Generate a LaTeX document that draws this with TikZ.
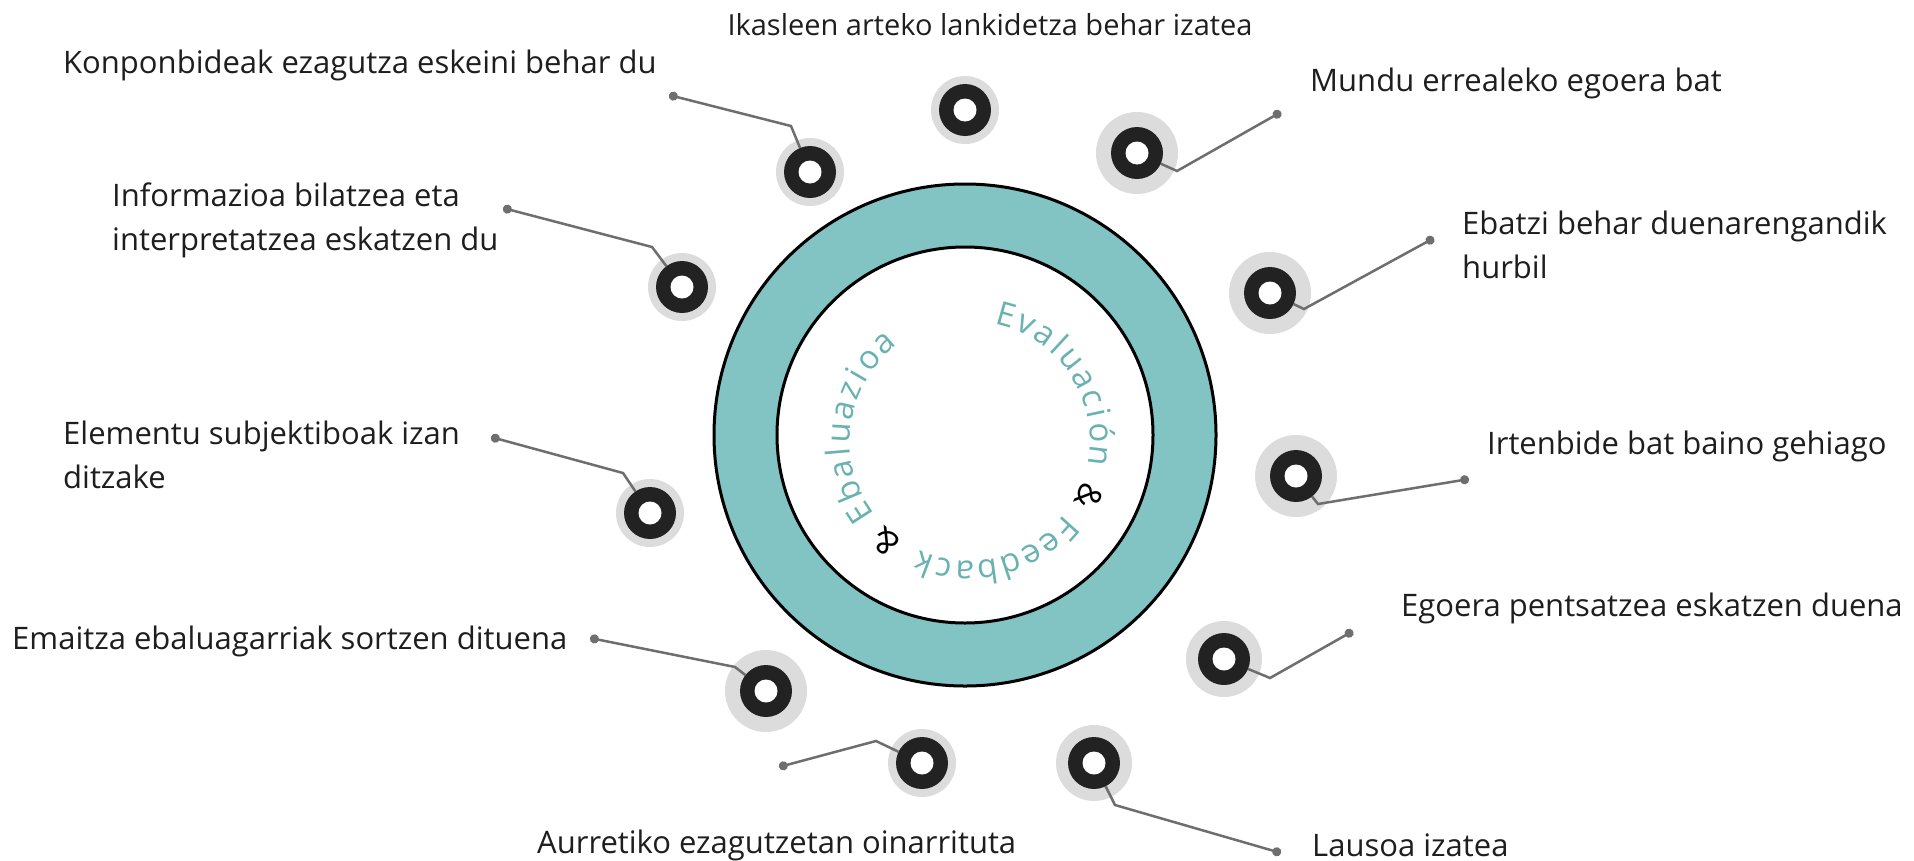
\documentclass[tikz,border=0pt]{standalone}
\usepackage{fontspec}
\setmainfont{Open Sans}
\usetikzlibrary{calc,arrows.meta}
\definecolor{ringteal}{HTML}{82C4C3}
\definecolor{ringtext}{HTML}{6AB2B2}
\definecolor{mk}{HTML}{222222}
\definecolor{halogray}{HTML}{DCDCDC}
\definecolor{conncol}{HTML}{6E6E6E}
\definecolor{labeltext}{HTML}{1E1E1E}
\begin{document}
\begin{tikzpicture}[x=1pt,y=-1pt,
  lbl/.style={anchor=west, inner sep=0pt, align=left, text=labeltext, font=\fontsize{31}{44}\selectfont},
  toplbl/.style={anchor=center, inner sep=0pt, text=labeltext, font=\fontsize{29}{34}\selectfont},
  halodisc/.style={circle, fill=halogray, minimum size=#1, inner sep=0pt, outer sep=0pt},
  bead/.style={circle, fill=mk, minimum size=52pt, inner sep=0pt, outer sep=0pt,
    path picture={\fill[white] (path picture bounding box.center) circle (11.5);}},
  conn/.style={draw=conncol, line width=2.5pt, {Circle[length=9pt]}-},
  ringletter/.style={anchor=base, inner sep=0pt, font=\fontsize{33}{38}\selectfont},
  ringline/.style={draw=black, line width=3pt}
]
\path[use as bounding box, fill=white] (0,0) rectangle (1914,860);

% ring
\coordinate (C) at (965,435);
\coordinate (T) at (970,441);
\path[ringline, fill=ringteal] (C) circle (251);
\path[ringline, fill=white] (C) circle (188);

% text around the inner circle
\foreach \ch/\ang/\col [count=\i] in {
  E/74/ringtext, v/64.6/ringtext, a/55.1/ringtext, l/47.2/ringtext, u/38.9/ringtext,
  a/28.8/ringtext, c/19.4/ringtext, i/12.0/ringtext, ó/3.8/ringtext, n/-6.7/ringtext,
  \&/-25/black,
  F/-42/ringtext, e/-51.5/ringtext, e/-61.4/ringtext, d/-71.6/ringtext, b/-82.1/ringtext,
  a/-92.3/ringtext, c/-101.6/ringtext, k/-110.8/ringtext,
  \&/-130/black,
  E/-147/ringtext, b/-157.2/ringtext, a/-167.3/ringtext, l/-175.2/ringtext, u/-183.5/ringtext,
  a/-193.7/ringtext, z/-202.9/ringtext, i/-210.3/ringtext, o/-218.6/ringtext, a/-228.7/ringtext}
{
  \node[ringletter, text=\col, rotate=\ang-90] (r\i) at ($(T)+({cos(\ang)*120},{-sin(\ang)*120})$) {\ch};
}

% halos
\node[halodisc=68pt] (h1) at (965,110) {};
\node[halodisc=82pt] (h2) at (1137,153) {};
\node[halodisc=82pt] (h3) at (1270,293) {};
\node[halodisc=82pt] (h4) at (1296,476) {};
\node[halodisc=76pt] (h5) at (1224,659) {};
\node[halodisc=76pt] (h6) at (1094,763) {};
\node[halodisc=68pt] (h7) at (922,763) {};
\node[halodisc=82pt] (h8) at (766,691) {};
\node[halodisc=68pt] (h9) at (650,513) {};
\node[halodisc=68pt] (h10) at (682,287) {};
\node[halodisc=68pt] (h11) at (810,172) {};

% beads
\foreach \k in {1,...,11} { \node[bead] (m\k) at (h\k) {}; }

% connector points
\coordinate (d2) at (1281,112);  \coordinate (b2) at (1177,171);
\coordinate (d3) at (1434,238);  \coordinate (b3) at (1304,309);
\coordinate (d4) at (1469,479);  \coordinate (b4) at (1318,504);
\coordinate (d5) at (1353,631);  \coordinate (b5) at (1270,678);
\coordinate (d6) at (1281,853);  \coordinate (b6) at (1115,805);
\coordinate (d7) at (779,767);   \coordinate (b7) at (876,741);
\coordinate (d8) at (590,638);   \coordinate (b8) at (735,667);
\coordinate (d9) at (491,437);   \coordinate (b9) at (623,473);
\coordinate (d10) at (503,208);  \coordinate (b10) at (652,247);
\coordinate (d11) at (669,95);   \coordinate (b11) at (791,126);

\foreach \k in {2,...,11} { \draw[conn] (d\k) -- (b\k) -- (m\k); }

% labels
\node[toplbl] (t1) at (990,25) {Ikasleen arteko lankidetza behar izatea};
\node[lbl] (t2) at (1310,83) {Mundu errealeko egoera bat};
\node[lbl] (t3) at (1462,245) {Ebatzi behar duenarengandik\\hurbil};
\node[lbl] (t4) at (1487,446) {Irtenbide bat baino gehiago};
\node[lbl] (t5) at (1401,608) {Egoera pentsatzea eskatzen duena};
\node[lbl] (t6) at (1312,845) {Lausoa izatea};
\node[lbl] (t7) at (537,845) {Aurretiko ezagutzetan oinarrituta};
\node[lbl] (t8) at (12,641) {Emaitza ebaluagarriak sortzen dituena};
\node[lbl] (t9) at (63,455) {Elementu subjektiboak izan\\ditzake};
\node[lbl] (t10) at (112,220) {Informazioa bilatzea eta\\interpretatzea eskatzen du};
\node[lbl] (t11) at (63,65) {Konponbideak ezagutza eskeini behar du};
\end{tikzpicture}
\end{document}
